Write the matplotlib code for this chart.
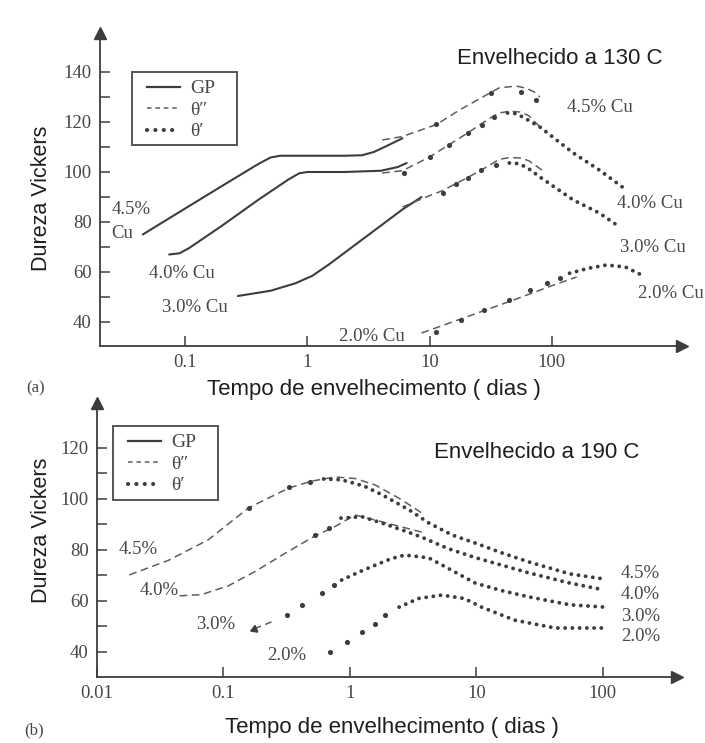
import matplotlib
matplotlib.use("Agg")
import matplotlib.pyplot as plt
from matplotlib.lines import Line2D
from matplotlib.patches import Rectangle

# ======================= DATA: (a) aged at 130 C =======================
# GP zones (solid)
a_gp45_x = [0.045, 0.1, 0.2, 0.4, 0.5, 0.6, 1, 2, 2.8, 3.5, 4.5, 6.0]
a_gp45_y = [75, 85.4, 94.4, 103.3, 105.8, 106.5, 106.5, 106.5, 106.7, 108, 110.5, 113.5]
a_gp40_x = [0.074, 0.09, 0.108, 0.2, 0.4, 0.7, 0.86, 1.0, 2, 4, 5.5, 6.5]
a_gp40_y = [67, 67.5, 69.6, 78.5, 89, 97, 99.5, 100, 100, 100.5, 102, 103.6]
a_gp30_x = [0.27, 0.5, 0.8, 1.1, 1.5, 3, 6, 8.6]
a_gp30_y = [50.4, 52.5, 55.5, 58.5, 63, 74, 85, 90]
# theta'' (dashed)
a_t2_45_x = [4.1, 6, 11.4, 17.6, 25, 37, 51, 62, 72, 80]
a_t2_45_y = [112.8, 114.2, 119, 124.8, 129, 133.6, 134.4, 133.5, 132, 130]
a_t2_40_x = [4.1, 6, 10, 20.5, 30, 37, 45, 55, 65, 80]
a_t2_40_y = [99.6, 100.5, 106, 115.6, 121, 123.6, 124.3, 124, 122.5, 118]
a_t2_30_x = [6, 9.4, 12.7, 20, 27, 37, 45, 55, 65, 83]
a_t2_30_y = [86, 90, 92.5, 97.5, 101, 105, 105.8, 105.6, 104.5, 100.8]
a_t2_20_x = [8.6, 20, 50, 100, 160]
a_t2_20_y = [35.6, 42, 49, 54.5, 58]
# theta' (dots): sparse measured points and dense dotted tails
a_t1_45_x = [11.4, 32, 56, 75]
a_t1_45_y = [119, 131.6, 131.8, 128.6]
a_t1_40_px = [6.2, 10, 14.3, 20.5, 27, 34]
a_t1_40_py = [99.6, 106, 110.8, 115.6, 118.8, 122]
a_t1_40_x = [43.5, 50, 58, 80, 150, 245, 398]
a_t1_40_y = [123.6, 123.4, 122, 118, 107.6, 100.8, 93.2]
a_t1_30_px = [12.8, 16.6, 20.5, 26.6, 35]
a_t1_30_py = [91.6, 95.2, 97.6, 100.8, 102.8]
a_t1_30_x = [45, 52, 62, 80, 150, 245, 360]
a_t1_30_y = [103.6, 103.4, 102, 98, 88.8, 83.6, 78]
a_t1_20_px = [11.4, 18, 28, 45, 66, 91, 116]
a_t1_20_py = [36, 40.8, 44.8, 48.8, 52.8, 55.6, 57.6]
a_t1_20_x = [140, 200, 280, 400, 545]
a_t1_20_y = [59.5, 61.5, 62.8, 62, 58.8]

# ======================= DATA: (b) aged at 190 C =======================
b_t2_45_x = [0.018, 0.037, 0.076, 0.158, 0.33, 0.5, 0.76, 1.1, 1.58, 2.5, 3.7]
b_t2_45_y = [70.2, 76, 84, 96.5, 104.3, 107, 108.6, 108, 105.5, 100, 94.5]
b_t2_40_x = [0.045, 0.067, 0.11, 0.177, 0.31, 0.53, 0.75, 1.1, 1.8, 3.9]
b_t2_40_y = [62, 62.5, 66, 71.5, 78.8, 85.5, 89, 93.7, 91, 86.7]
b_t2_30_x = [0.174, 0.24]
b_t2_30_y = [49, 51.8]
b_t1_45_px = [0.158, 0.33, 0.48]
b_t1_45_py = [96.5, 104.7, 106.7]
b_t1_45_x = [0.62, 0.86, 1.3, 1.8, 2.94, 4.2, 6.4, 9.8, 16, 26, 55, 103]
b_t1_45_y = [107.8, 107.5, 105, 101.6, 95.7, 90.6, 85.9, 82.7, 78.8, 75.3, 70.6, 68.6]
b_t1_40_px = [0.53, 0.68]
b_t1_40_py = [86, 88.5]
b_t1_40_x = [0.85, 1.25, 1.8, 2.7, 3.7, 6, 9.8, 16, 26, 55, 103]
b_t1_40_y = [92.5, 93, 90.5, 87.5, 85, 80.5, 77, 74, 71, 67, 64.3]
b_t1_30_px = [0.32, 0.42, 0.6, 0.75]
b_t1_30_py = [54.5, 58.4, 63, 66.2]
b_t1_30_x = [0.86, 1.2, 1.58, 2.1, 2.7, 4.2, 6.4, 9.8, 16, 26, 55, 103]
b_t1_30_y = [68.2, 71.5, 74, 76.5, 78, 76.9, 72, 67, 64, 61.6, 58.5, 57.6]
b_t1_20_px = [0.69, 0.95, 1.25, 1.58, 1.9]
b_t1_20_py = [40, 43.8, 47.8, 51, 54.5]
b_t1_20_x = [2.45, 3.5, 5.3, 8, 11, 20, 42, 106]
b_t1_20_y = [57.6, 61, 62.3, 61, 57.6, 52.5, 49.4, 49.4]

xticks_a = [0.1, 1, 10, 100]
xticks_b = [0.01, 0.1, 1, 10, 100]
xtick_labels_a = ["0.1", "1", "10", "100"]
xtick_labels_b = ["0.01", "0.1", "1", "10", "100"]
legend_labels = ["GP", "\u03b8\u2033", "\u03b8\u2032"]

# ======================= STYLE =======================
W, H, DPI = 705, 743, 100
SERIF = ["Liberation Serif", "DejaVu Serif"]
SANS = ["Liberation Sans", "DejaVu Sans"]
LC = "#3d3d3d"
DC = "#5e5e5e"
TC = "#474747"

fig = plt.figure(figsize=(W / DPI, H / DPI), dpi=DPI)
fig.patch.set_facecolor("white")


def px_axes(l, t, r, b):
    return fig.add_axes([l / W, 1 - b / H, (r - l) / W, (b - t) / H])


def solid(ax, x, y):
    ax.plot(x, y, color=LC, lw=1.5, solid_capstyle="round")


def dashed(ax, x, y):
    ax.plot(x, y, color=DC, lw=1.1, dashes=(5, 3))


def dots(ax, x, y):
    ax.plot(x, y, color=LC, lw=2.8, linestyle=(0, (0.01, 1.85)),
            dash_capstyle="round")


def pts(ax, x, y):
    ax.plot(x, y, ls="none", marker="o", ms=3.7, mew=0, color=LC)


def style_axes(ax, xlim, ylim, xt, xtl, ymajor, yminor):
    ax.set_xscale("log")
    ax.set_xlim(*xlim)
    ax.set_ylim(*ylim)
    for s in ("top", "right"):
        ax.spines[s].set_visible(False)
    for s in ("left", "bottom"):
        ax.spines[s].set_color(LC)
        ax.spines[s].set_linewidth(1.3)
    ax.set_xticks(xt)
    ax.set_xticklabels(xtl)
    ax.xaxis.set_minor_locator(matplotlib.ticker.NullLocator())
    ax.set_yticks(ymajor)
    ax.set_yticks(yminor, minor=True)
    ax.tick_params(which="both", direction="in", color=LC, width=1.1,
                   labelcolor=TC, labelsize=13.5, length=7)
    ax.tick_params(axis="x", pad=6)
    ax.tick_params(axis="y", pad=6)
    for lab in ax.get_xticklabels() + ax.get_yticklabels():
        lab.set_family(SERIF)
    ax.set_facecolor("none")
    # arrow heads at the axis ends
    ax.plot([0], [1], marker="^", ms=8, color=LC, transform=ax.transAxes,
            clip_on=False)
    ax.plot([1], [0], marker=">", ms=8, color=LC, transform=ax.transAxes,
            clip_on=False)


def legend(ax, box, anchor):
    l, t, r, b = box
    fig.add_artist(Rectangle((l / W, 1 - b / H), (r - l) / W, (b - t) / H,
                             transform=fig.transFigure, fill=False,
                             ec="#555555", lw=1.4))
    handles = [
        Line2D([], [], color=LC, lw=1.6),
        Line2D([], [], color=DC, lw=1.1, dashes=(3, 2.5)),
        Line2D([], [], color=LC, lw=3.0, linestyle=(0, (0.01, 2.0)),
               dash_capstyle="round"),
    ]
    lg = ax.legend(handles, legend_labels, loc="upper left",
                   bbox_to_anchor=(anchor[0] / W, 1 - anchor[1] / H),
                   bbox_transform=fig.transFigure, frameon=False,
                   borderaxespad=0, handlelength=1.7,
                   handletextpad=0.55, labelspacing=0.2, borderpad=0.4,
                   prop={"family": SERIF, "size": 14})
    for t_ in lg.get_texts():
        t_.set_color(TC)


def label(ax, x, y, s):
    ax.text(x, y, s, family=SERIF, fontsize=13.5, color=TC,
            ha="left", va="center")


# ======================= PANEL (a) =======================
axA = px_axes(100, 33, 682, 346)
style_axes(axA, (0.0201, 1164), (30.4, 155.6), xticks_a, xtick_labels_a,
           [40, 60, 80, 100, 120, 140], [50, 70, 90, 110, 130])

solid(axA, a_gp45_x, a_gp45_y)
solid(axA, a_gp40_x, a_gp40_y)
solid(axA, a_gp30_x, a_gp30_y)
dashed(axA, a_t2_45_x, a_t2_45_y)
dashed(axA, a_t2_40_x, a_t2_40_y)
dashed(axA, a_t2_30_x, a_t2_30_y)
dashed(axA, a_t2_20_x, a_t2_20_y)
pts(axA, a_t1_45_x, a_t1_45_y)
pts(axA, a_t1_40_px, a_t1_40_py)
dots(axA, a_t1_40_x, a_t1_40_y)
pts(axA, a_t1_30_px, a_t1_30_py)
dots(axA, a_t1_30_x, a_t1_30_y)
pts(axA, a_t1_20_px, a_t1_20_py)
dots(axA, a_t1_20_x, a_t1_20_y)

label(axA, 0.025, 84.8, "4.5%")
label(axA, 0.025, 75.6, "Cu")
label(axA, 0.051, 59.2, "4.0% Cu")
label(axA, 0.065, 45.6, "3.0% Cu")
label(axA, 1.83, 34.2, "2.0% Cu")
label(axA, 133, 125.6, "4.5% Cu")
label(axA, 340, 87.2, "4.0% Cu")
label(axA, 360, 70.0, "3.0% Cu")
label(axA, 505, 51.6, "2.0% Cu")
legend(axA, (132, 72, 237, 145), (139, 72))

fig.text(560 / W, 1 - 58 / H, "Envelhecido a 130 C", family=SANS,
         fontsize=16, color="#1e1e1e", ha="center", va="center")
fig.text(42 / W, 1 - 198 / H, "Dureza Vickers", family=SANS, fontsize=15.5,
         color="#1e1e1e", ha="center", va="center", rotation=90)
fig.text(374 / W, 1 - 390 / H, "Tempo de envelhecimento ( dias )",
         family=SANS, fontsize=16, color="#1e1e1e", ha="center", va="center")
fig.text(36 / W, 1 - 388 / H, "(a)", family=SERIF, fontsize=12,
         color=TC, ha="center", va="center")

# ======================= PANEL (b) =======================
axB = px_axes(97, 403, 677, 677)
style_axes(axB, (0.01, 386), (30.2, 137.6), xticks_b, xtick_labels_b,
           [40, 60, 80, 100, 120], [50, 70, 90, 110])

dashed(axB, b_t2_45_x, b_t2_45_y)
dashed(axB, b_t2_40_x, b_t2_40_y)
dashed(axB, b_t2_30_x, b_t2_30_y)
axB.plot(b_t2_30_x[:1], b_t2_30_y[:1], ls="none", marker=(3, 0, 111),
         ms=6, color=LC)
pts(axB, b_t1_45_px, b_t1_45_py)
dots(axB, b_t1_45_x, b_t1_45_y)
pts(axB, b_t1_40_px, b_t1_40_py)
dots(axB, b_t1_40_x, b_t1_40_y)
pts(axB, b_t1_30_px, b_t1_30_py)
dots(axB, b_t1_30_x, b_t1_30_y)
pts(axB, b_t1_20_px, b_t1_20_py)
dots(axB, b_t1_20_x, b_t1_20_y)

label(axB, 0.0147, 80.0, "4.5%")
label(axB, 0.0216, 64.3, "4.0%")
label(axB, 0.061, 50.6, "3.0%")
label(axB, 0.22, 38.8, "2.0%")
label(axB, 139, 70.6, "4.5%")
label(axB, 139, 62.4, "4.0%")
label(axB, 139, 54.1, "3.0%")
label(axB, 139, 45.9, "2.0%")
legend(axB, (113, 426, 218, 500), (120, 426))

fig.text(537 / W, 1 - 452 / H, "Envelhecido a 190 C", family=SANS,
         fontsize=16, color="#1e1e1e", ha="center", va="center")
fig.text(42 / W, 1 - 530 / H, "Dureza Vickers", family=SANS, fontsize=15.5,
         color="#1e1e1e", ha="center", va="center", rotation=90)
fig.text(392 / W, 1 - 728 / H, "Tempo de envelhecimento ( dias )",
         family=SANS, fontsize=16, color="#1e1e1e", ha="center", va="center")
fig.text(34 / W, 1 - 730 / H, "(b)", family=SERIF, fontsize=12,
         color=TC, ha="center", va="center")

fig.savefig("out.png", dpi=DPI, facecolor="white")
